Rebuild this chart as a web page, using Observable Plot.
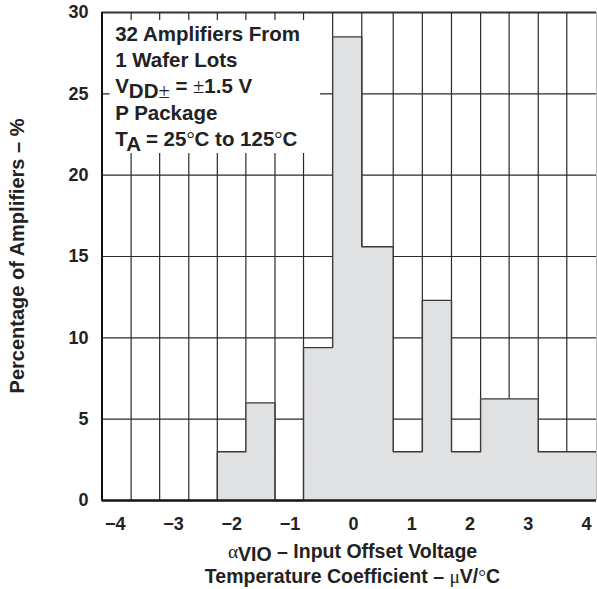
<!DOCTYPE html>
<html><head><meta charset="utf-8">
<script src="https://cdn.jsdelivr.net/npm/d3@7"></script>
<script src="https://cdn.jsdelivr.net/npm/@observablehq/plot@0.6"></script>
<style>html,body{margin:0;padding:0;background:#fff} svg{display:block}</style>
</head><body><div id="chart"></div>
<script>
// ---- data ----
const binEdges = [-4.31, -3.81, -3.32, -2.82, -2.33, -1.84, -1.34, -0.85, -0.35, 0.15, 0.69, 1.19, 1.69, 2.19, 2.68, 3.18, 3.67, 4.18];
const percentages = [0, 0, 0, 0, 3.0, 6.0, 0, 9.4, 28.5, 15.6, 3.0, 12.3, 3.0, 6.25, 6.25, 3.0, 3.0];
const xTicks = [-4, -3, -2, -1, 0, 1, 2, 3, 4];
const xTickLabels = ["−4", "−3", "−2", "−1", "0", "1", "2", "3", "4"];
const yTicks = [0, 5, 10, 15, 20, 25, 30];
const yGrid = [5, 10, 15, 20, 25];
const noteLines = [
  "32 Amplifiers From",
  "1 Wafer Lots",
  "V_{DD±} = ±1.5 V",
  "P Package",
  "T_{A} = 25°C to 125°C"
];
const noteBox = {x1: -4.17, x2: -0.56, y1: 21.33, y2: 29.5};
const xTitleLines = ["α_{VIO} – Input Offset Voltage", "Temperature Coefficient – μV/°C"];
const yTitle = "Percentage of Amplifiers – %";

// ---- chart ----
const W = 597, H = 589;
const xDomain = [binEdges[0], binEdges[binEdges.length - 1]];
const steps = binEdges.map((e, i) => ({x: e, y: percentages[Math.min(i, percentages.length - 1)]}));
const FONT = "'Liberation Sans', Arial, Helvetica, sans-serif";
const INK = "#222";

const svg = Plot.plot({
  width: W, height: H,
  marginLeft: 101.5, marginRight: 1, marginTop: 12, marginBottom: 89,
  style: {fontFamily: FONT, background: "#fff", color: INK},
  x: {domain: xDomain, axis: null},
  y: {domain: [0, 30], axis: null},
  marks: [
    Plot.ruleX(binEdges.slice(1, -1), {y1: 0, y2: 30, stroke: "#2a2a2a", strokeWidth: 1.2}),
    Plot.ruleY(yGrid, {stroke: "#2a2a2a", strokeWidth: 1.2}),
    Plot.rect([noteBox], {x1: "x1", x2: "x2", y1: "y1", y2: "y2", fill: "#fff"}),
    Plot.areaY(steps, {x: "x", y: "y", curve: "step-after", fill: "#e0e1e3"}),
    Plot.lineY(steps, {x: "x", y: "y", curve: "step-after", stroke: "#3a3a3a", strokeWidth: 1.4}),
    Plot.ruleX([xDomain[1]], {stroke: "#bbb", strokeWidth: 1}),
    Plot.ruleY([30], {stroke: "#333", strokeWidth: 2}),
    Plot.ruleY([0], {stroke: "#1a1a1a", strokeWidth: 2.5}),
    Plot.ruleX([xDomain[0]], {y1: 0, y2: 30, stroke: "#111", strokeWidth: 2}),
    Plot.text(xTicks, {x: d => d, y: 0, text: (d, i) => xTickLabels[i], textAnchor: "end", dx: 5.5, dy: 24,
      fontSize: 18, fontWeight: "bold", fill: INK}),
    Plot.text(yTicks, {x: xDomain[0], y: d => d, text: d => String(d), textAnchor: "end", dx: -13.5,
      fontSize: 18, fontWeight: "bold", fill: INK})
  ]
});
document.getElementById("chart").appendChild(svg);

const xs = svg.scale("x"), ys = svg.scale("y");
const SYM = /([±°αμ]+)/;
function rich(sel, str, {x, y, size, anchor = "start", sub = 5}) {
  const t = sel.append("text").attr("x", x).attr("y", y)
    .attr("text-anchor", anchor).attr("font-size", size)
    .attr("font-weight", "bold").attr("fill", INK).attr("font-family", FONT);
  let cur = 0;
  const parts = str.split(/_\{([^}]*)\}/);
  parts.forEach((seg, k) => {
    const target = k % 2 === 1 ? sub : 0;
    seg.split(SYM).forEach(run => {
      if (!run) return;
      const ts = t.append("tspan").attr("dy", target - cur).text(run);
      cur = target;
      if (SYM.test(run)) ts.attr("font-family", "'Liberation Serif', 'DejaVu Serif', serif").attr("font-weight", "normal");
    });
  });
  return t;
}
const root = d3.select(svg);
const nx = xs.apply(noteBox.x1) + 5.5;
const ny0 = ys.apply(noteBox.y2) + 20.7;
noteLines.forEach((line, i) => rich(root, line, {x: nx, y: ny0 + i * 26.25, size: 20.5}));

const cx = xs.apply(0);
const base = ys.apply(0);
xTitleLines.forEach((line, i) => rich(root, line, {x: cx, y: base + 57.5 + i * 25.5, size: 19.5, anchor: "middle", sub: 3}));

root.append("text")
  .attr("transform", `translate(17,${(ys.apply(0) + ys.apply(30)) / 2}) rotate(-90)`)
  .attr("text-anchor", "middle").attr("dy", "0.35em")
  .attr("font-size", 20).attr("font-weight", "bold").attr("fill", INK).attr("font-family", FONT)
  .text(yTitle);
</script>
</body></html>
